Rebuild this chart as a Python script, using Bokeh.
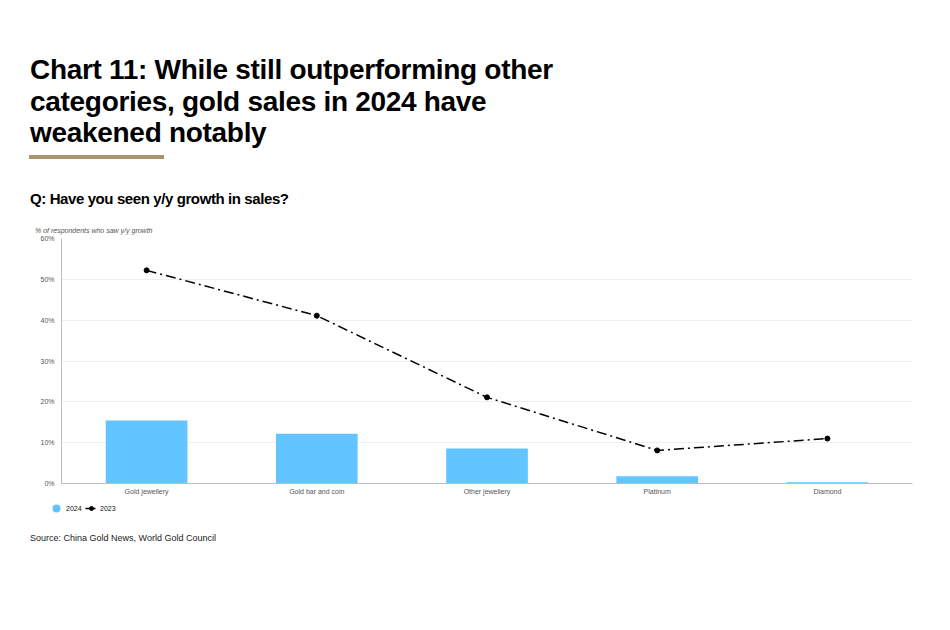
from bokeh.plotting import figure
from bokeh.models import Div, Legend, LegendItem, NumeralTickFormatter, FixedTicker, Range1d, FactorRange, ColumnDataSource
from bokeh.layouts import column, row
from bokeh.embed import file_html
from bokeh.resources import INLINE

categories = ["Gold jewellery", "Gold bar and coin", "Other jewellery", "Platinum", "Diamond"]
values_2024 = [0.154, 0.122, 0.086, 0.018, 0.003]
values_2023 = [0.522, 0.411, 0.211, 0.081, 0.110]
series_labels = ["2024", "2023"]

FONT = "'Liberation Sans', Arial, Helvetica, sans-serif"
BLUE = "#63C5FF"
DASH = "10 4 2 4"
NAN = float("nan")

head = Div(
    width=934, height=224,
    text=(
        f"<div style=\"position:relative;width:934px;height:224px;font-family:{FONT};\">"
        f"<div style=\"position:absolute;left:25px;top:49px;font-size:28px;line-height:31.5px;font-weight:bold;color:#000;letter-spacing:-0.3px;white-space:nowrap;\">"
        "Chart 11: While still outperforming other<br>categories, gold sales in 2024 have<br>weakened notably</div>"
        "<div style=\"position:absolute;left:24px;top:150px;width:135px;height:3.5px;background:#A8956A;\"></div>"
        "<div style=\"position:absolute;left:25px;top:185px;font-size:15px;line-height:18px;font-weight:bold;color:#000;letter-spacing:-0.4px;white-space:nowrap;\">"
        "Q: Have you seen y/y growth in sales?</div>"
        "<div style=\"position:absolute;left:30px;top:221px;font-size:7px;line-height:9px;font-style:italic;color:#555;white-space:nowrap;\">"
        "% of respondents who saw y/y growth</div>"
        "</div>"
    ),
)

src = ColumnDataSource(dict(cat=categories, v24=values_2024, v23=values_2023))

p = figure(
    x_range=FactorRange(*categories, range_padding=0),
    y_range=Range1d(0, 0.6),
    width=940, height=266,
    output_backend="svg", toolbar_location=None,
    min_border_left=61, min_border_right=28, min_border_top=4, min_border_bottom=17,
)
p.outline_line_color = None
p.background_fill_color = "white"

p.vbar(x="cat", top="v24", width=0.48, source=src, fill_color=BLUE, line_color=None)
p.line(x="cat", y="v23", source=src, line_color="#000000", line_width=1.5, line_dash=DASH)
p.scatter(x="cat", y="v23", source=src, size=5, fill_color="#000000", line_color="#000000")

p.yaxis.ticker = FixedTicker(ticks=[0, 0.1, 0.2, 0.3, 0.4, 0.5, 0.6])
p.yaxis.formatter = NumeralTickFormatter(format="0%")
for ax in (p.xaxis, p.yaxis):
    ax.major_label_text_font = "Liberation Sans"
    ax.major_label_text_font_size = "7px"
    ax.major_label_text_color = "#555555"
    ax.axis_line_color = "#BBBBBB"
    ax.major_tick_line_color = None
    ax.minor_tick_line_color = None
    ax.major_tick_out = 0
    ax.major_tick_in = 0
p.yaxis.major_label_standoff = 7
p.xaxis.major_label_standoff = 4
p.xgrid.grid_line_color = None
p.ygrid.grid_line_color = "#DDDDDD"
p.ygrid.grid_line_dash = "1 1"

# legend strip (separate small figure so it can sit below the axis)
lg = figure(
    width=940, height=24, output_backend="svg", toolbar_location=None,
    x_range=Range1d(0, 1), y_range=Range1d(0, 1),
    x_axis_location=None, y_axis_location=None,
    min_border_left=0, min_border_right=0, min_border_top=0, min_border_bottom=0,
)
lg.grid.visible = False
lg.outline_line_color = None
d24 = lg.scatter(x=[NAN], y=[NAN], size=9, fill_color=BLUE, line_color=None)
l23 = lg.line(x=[NAN, NAN], y=[NAN, NAN], line_color="#000000", line_width=1.5, line_dash=DASH)
s23 = lg.scatter(x=[NAN], y=[NAN], size=5, fill_color="#000000", line_color="#000000")

common = dict(
    orientation="horizontal",
    label_text_font="Liberation Sans", label_text_font_size="7px", label_text_color="#111111",
    padding=0, margin=0, spacing=0,
    border_line_color=None, background_fill_alpha=0,
)
leg1 = Legend(items=[LegendItem(label=series_labels[0], renderers=[d24])],
              location=(46, 6), glyph_width=20, glyph_height=20, label_height=20,
              label_standoff=-4, **common)
leg2 = Legend(items=[LegendItem(label=series_labels[1], renderers=[l23, s23])],
              location=(85, 11), glyph_width=12, glyph_height=10, label_height=10,
              label_standoff=3, **common)
lg.add_layout(leg1, "center")
lg.add_layout(leg2, "center")

foot = Div(
    width=934, height=40,
    text=(f"<div style=\"font-family:{FONT};font-size:9px;line-height:10px;color:#222;padding-left:25px;padding-top:2px;white-space:nowrap;\">"
          "Source: China Gold News, World Gold Council</div>"),
)

layout = column(head, p, row(lg), foot, spacing=0)
open("out.html", "w").write(file_html(layout, INLINE))
